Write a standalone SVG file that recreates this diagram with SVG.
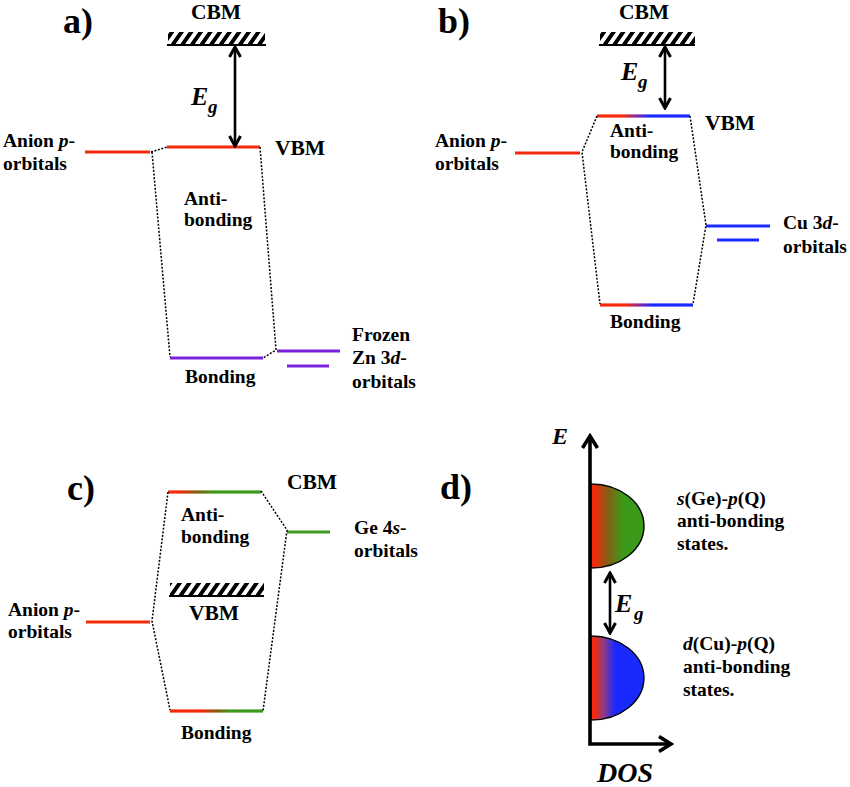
<svg xmlns="http://www.w3.org/2000/svg" width="850" height="787" viewBox="0 0 850 787">
<style>
text{font-family:"Times New Roman","Liberation Serif","DejaVu Serif",Times,serif;font-weight:bold;fill:#000}
.lab{font-size:19.5px}
.big{font-size:21.5px}
.pan{font-size:36px}
.it{font-style:italic}
.dot{fill:none;stroke:#000;stroke-width:1.5;stroke-dasharray:2 1.6}
.lvl{stroke-width:3.2;fill:none}
.arr{stroke:#000;stroke-width:2.6;fill:none;marker-start:url(#ah);marker-end:url(#ah)}
</style>
<defs>
<marker id="ah" viewBox="0 0 14 14" refX="12" refY="7" markerWidth="14" markerHeight="14" markerUnits="userSpaceOnUse" orient="auto-start-reverse">
<path d="M2,1.5 L12,7 L2,12.5" fill="none" stroke="#000" stroke-width="3"/>
</marker>
<marker id="axh" viewBox="0 0 18 18" refX="15" refY="9" markerWidth="18" markerHeight="18" markerUnits="userSpaceOnUse" orient="auto-start-reverse">
<path d="M3,1.5 L15,9 L3,16.5" fill="none" stroke="#000" stroke-width="3.6"/>
</marker>
<pattern id="hatch" width="9.6" height="14" patternUnits="userSpaceOnUse" patternTransform="skewX(-35)">
<rect x="0" y="0" width="4.8" height="14" fill="#000"/>
</pattern>
<linearGradient id="gRB" x1="0" x2="1" y1="0" y2="0"><stop offset="0.28" stop-color="#f52a0a"/><stop offset="0.42" stop-color="#8a2aa0"/><stop offset="0.56" stop-color="#1a2aff"/></linearGradient>
<linearGradient id="gRGtop" x1="0" x2="1" y1="0" y2="0"><stop offset="0.12" stop-color="#f52a0a"/><stop offset="0.3" stop-color="#8a5a10"/><stop offset="0.5" stop-color="#3c9a1a"/></linearGradient>
<linearGradient id="gRGbot" x1="0" x2="1" y1="0" y2="0"><stop offset="0.34" stop-color="#f52a0a"/><stop offset="0.5" stop-color="#8a5a10"/><stop offset="0.66" stop-color="#3c9a1a"/></linearGradient>
<linearGradient id="dG" gradientUnits="userSpaceOnUse" x1="591" x2="644" y1="0" y2="0"><stop offset="0.06" stop-color="#f52a0a"/><stop offset="0.3" stop-color="#8a5a14"/><stop offset="0.6" stop-color="#3c9a1a"/></linearGradient>
<linearGradient id="dB" gradientUnits="userSpaceOnUse" x1="591" x2="644" y1="0" y2="0"><stop offset="0.06" stop-color="#f52a0a"/><stop offset="0.25" stop-color="#8a3a8a"/><stop offset="0.45" stop-color="#1a2aff"/></linearGradient>
</defs>

<!-- Panel a -->
<g id="panel-a">
<text class="pan" x="63" y="33">a)</text>
<g id="a-cbm">
<rect x="168" y="32" width="97" height="12" fill="url(#hatch)"/>
<line x1="167" y1="45" x2="266" y2="45" stroke="#000" stroke-width="2"/>
<text class="big" x="216" y="19" text-anchor="middle">CBM</text>
</g>
<g id="a-anion">
<line class="lvl" x1="85" y1="152" x2="150" y2="152" stroke="#f52a0a"/>
<text class="lab" x="3" y="147">Anion <tspan class="it">p</tspan>-</text>
<text class="lab" x="3" y="170">orbitals</text>
</g>
<g id="a-vbm">
<line class="lvl" x1="167" y1="147" x2="260" y2="147" stroke="#f52a0a"/>
<text class="big" x="275" y="155">VBM</text>
<text class="lab" x="184" y="205">Anti-</text>
<text class="lab" x="184" y="226">bonding</text>
</g>
<g id="a-bonding">
<line class="lvl" x1="170" y1="358" x2="263" y2="358" stroke="#7a22e0"/>
<text class="lab" x="185" y="383">Bonding</text>
</g>
<g id="a-zn">
<line class="lvl" x1="277" y1="351" x2="340" y2="351" stroke="#7a22e0"/>
<line class="lvl" x1="287" y1="366" x2="329" y2="366" stroke="#7a22e0"/>
<text class="lab" x="352" y="341">Frozen</text>
<text class="lab" x="352" y="364">Zn 3<tspan class="it">d</tspan>-</text>
<text class="lab" x="352" y="388">orbitals</text>
</g>
<g id="a-eg">
<text class="it" x="191" y="105" font-size="26">E</text>
<text class="it" x="208" y="113" font-size="19">g</text>
</g>
</g>

<!-- Panel b -->
<g id="panel-b">
<text class="pan" x="438" y="33">b)</text>
<g id="b-cbm">
<rect x="600" y="32" width="95" height="12" fill="url(#hatch)"/>
<line x1="599" y1="45" x2="695" y2="45" stroke="#000" stroke-width="2"/>
<text class="big" x="644" y="19" text-anchor="middle">CBM</text>
</g>
<g id="b-anion">
<line class="lvl" x1="515" y1="153" x2="580" y2="153" stroke="#f52a0a"/>
<text class="lab" x="435" y="147">Anion <tspan class="it">p</tspan>-</text>
<text class="lab" x="435" y="170">orbitals</text>
</g>
<g id="b-vbm">
<rect x="597" y="114.4" width="93" height="3.2" fill="url(#gRB)"/>
<text class="big" x="705" y="130">VBM</text>
<text class="lab" x="610" y="137">Anti-</text>
<text class="lab" x="610" y="158">bonding</text>
</g>
<g id="b-bonding">
<rect x="600" y="303.4" width="93" height="3.2" fill="url(#gRB)"/>
<text class="lab" x="610" y="328">Bonding</text>
</g>
<g id="b-cu">
<line class="lvl" x1="706" y1="226" x2="770" y2="226" stroke="#1a2aff"/>
<line class="lvl" x1="717" y1="240" x2="759" y2="240" stroke="#1a2aff"/>
<text class="lab" x="783" y="229">Cu 3<tspan class="it">d</tspan>-</text>
<text class="lab" x="783" y="253">orbitals</text>
</g>
<g id="b-eg">
<text class="it" x="621" y="80" font-size="26">E</text>
<text class="it" x="638" y="88" font-size="19">g</text>
</g>
</g>

<!-- Panel c -->
<g id="panel-c">
<text class="pan" x="67" y="500">c)</text>
<g id="c-cbm">
<rect x="168" y="490.4" width="93" height="3.2" fill="url(#gRGtop)"/>
<text class="big" x="287" y="489">CBM</text>
<text class="lab" x="181" y="521">Anti-</text>
<text class="lab" x="181" y="543">bonding</text>
</g>
<g id="c-ge">
<line class="lvl" x1="287" y1="532" x2="330" y2="532" stroke="#3c9a1a"/>
<text class="lab" x="354" y="534">Ge 4<tspan class="it">s</tspan>-</text>
<text class="lab" x="354" y="557">orbitals</text>
</g>
<g id="c-vbm">
<rect x="170" y="583" width="94" height="12" fill="url(#hatch)"/>
<line x1="169" y1="596" x2="264" y2="596" stroke="#000" stroke-width="2"/>
<text class="big" x="214" y="620" text-anchor="middle">VBM</text>
</g>
<g id="c-anion">
<line class="lvl" x1="86" y1="622" x2="150" y2="622" stroke="#f52a0a"/>
<text class="lab" x="8" y="616">Anion <tspan class="it">p</tspan>-</text>
<text class="lab" x="8" y="638">orbitals</text>
</g>
<g id="c-bonding">
<rect x="170" y="709.4" width="93" height="3.2" fill="url(#gRGbot)"/>
<text class="lab" x="181" y="739">Bonding</text>
</g>
</g>

<!-- Panel d -->
<g id="panel-d">
<text class="pan" x="440" y="499">d)</text>
<g id="d-upper">
<path d="M591,484 A53,42 0 0 1 591,568 Z" fill="url(#dG)" stroke="#000" stroke-width="1.4"/>
<text class="lab" x="677" y="505"><tspan class="it">s</tspan>(Ge)-<tspan class="it">p</tspan>(Q)</text>
<text class="lab" x="677" y="527">anti-bonding</text>
<text class="lab" x="677" y="550">states.</text>
</g>
<g id="d-lower">
<path d="M591,636 A53,42 0 0 1 591,720 Z" fill="url(#dB)" stroke="#000" stroke-width="1.4"/>
<text class="lab" x="683" y="650"><tspan class="it">d</tspan>(Cu)-<tspan class="it">p</tspan>(Q)</text>
<text class="lab" x="683" y="673">anti-bonding</text>
<text class="lab" x="683" y="696">states.</text>
</g>
<g id="d-axes">
<path d="M590,436 L590,744 L671,744" fill="none" stroke="#000" stroke-width="3.6" marker-start="url(#axh)" marker-end="url(#axh)"/>
<text class="it" x="552" y="444" font-size="24">E</text>
<text class="it" x="597" y="782" font-size="28">DOS</text>
</g>
<g id="d-eg">
<text class="it" x="615" y="612" font-size="26">E</text>
<text class="it" x="634" y="620" font-size="19">g</text>
</g>
</g>

<!-- Connectors -->
<g id="connectors">
<line class="arr" x1="235" y1="47" x2="235" y2="146"/>
<line class="arr" x1="665" y1="47" x2="665" y2="108"/>
<line class="arr" x1="610" y1="573" x2="610" y2="633"/>
<polyline class="dot" points="151,152 167,147"/>
<polyline class="dot" points="152,152 170,357"/>
<polyline class="dot" points="260,147 276,350 263,358"/>
<polyline class="dot" points="597,116 582,152 600,304"/>
<polyline class="dot" points="690,116 706,225 693,304"/>
<polyline class="dot" points="168,492 152,621 170,710"/>
<polyline class="dot" points="261,491 287,530 263,711"/>
</g>
</svg>
